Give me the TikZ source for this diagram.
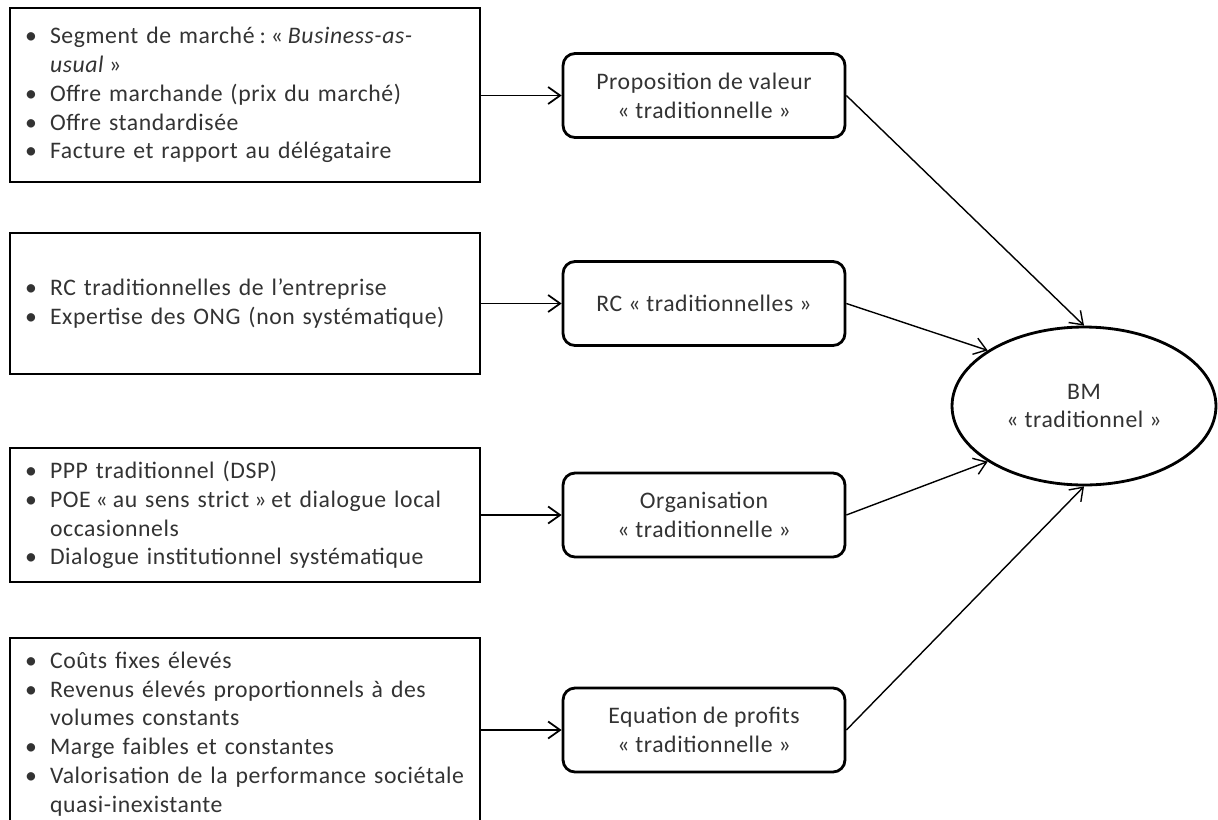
\documentclass[tikz,border=0pt]{standalone}
\usepackage{fontspec}
\setmainfont{Carlito}[LetterSpace=2.5]
\usetikzlibrary{arrows.meta,shapes.geometric}
\newcommand{\bi}[1]{\mbox{\makebox[0.5cm][l]{\textbullet}#1}}
\newcommand{\ci}[1]{\mbox{\hspace*{0.5cm}#1}}
\newcommand{\tsp}{\kern0.21em}
\tikzset{
  txt/.style={text=black!80, font=\fontsize{13.5}{16.4}\selectfont},
  lbox/.style={draw=black, line width=1.6pt, fill=white, txt, text width=8.8cm, inner xsep=0.3cm, inner ysep=0pt, align=left, minimum width=9.4cm},
  mbox/.style={draw=black, line width=1.6pt, rounded corners=0.24cm, txt, align=center, minimum width=5.64cm, minimum height=1.68cm, inner sep=0pt},
  bmell/.style={draw=black, ellipse, line width=1.6pt, txt, align=center, minimum width=5.28cm, minimum height=3.16cm, inner sep=0pt},
  harr/.style={-{Straight Barb[length=0.24cm,width=0.34cm]}, line width=1pt, black},
  darr/.style={-{Straight Barb[length=0.24cm,width=0.34cm]}, line width=0.8pt, black}
}
\begin{document}
\begin{tikzpicture}[x=0.02cm,y=-0.02cm]
\useasboundingbox (0,0) rectangle (1218,819);
\clip (0,0) rectangle (1218,819);
\fill[white] (0,0) rectangle (1218,819);

\node[lbox, minimum height=3.48cm] (l1) at (245,95) {\bi{Segment de marché\tsp:\tsp«\tsp\emph{Business-as-}}\\\ci{\emph{usual}\tsp»}\\\bi{Offre marchande (prix du marché)}\\\bi{Offre standardisée}\\\bi{Facture et rapport au délégataire}};
\node[lbox, minimum height=2.82cm] (l2) at (245,303.5) {\bi{RC traditionnelles de l’entreprise}\\\bi{Expertise des ONG (non systématique)}};
\node[lbox, minimum height=2.68cm] (l3) at (245,515) {\bi{PPP traditionnel (DSP)}\\\bi{POE\tsp«\tsp au sens strict\tsp»\tsp et dialogue local}\\\ci{occasionnels}\\\bi{Dialogue institutionnel systématique}};
\node[lbox, minimum height=3.84cm] (l4) at (245,734) {\bi{Coûts fixes élevés}\\\bi{Revenus élevés proportionnels à des}\\\ci{volumes constants}\\\bi{Marge faibles et constantes}\\\bi{Valorisation de la performance sociétale}\\\ci{quasi-inexistante}};

\node[mbox] (m1) at (704,95.5) {Proposition de valeur\\« traditionnelle »};
\node[mbox] (m2) at (704,303.5) {RC « traditionnelles »};
\node[mbox] (m3) at (704,515) {Organisation\\« traditionnelle »};
\node[mbox] (m4) at (704,730) {Equation de profits\\« traditionnelle »};

\node[bmell] (bm) at (1084,406) {BM\\« traditionnel »};

\draw[harr] (l1.east |- m1.west) -- (m1.west);
\draw[harr] (l2.east |- m2.west) -- (m2.west);
\draw[harr] (l3.east |- m3.west) -- (m3.west);
\draw[harr] (l4.east |- m4.west) -- (m4.west);

\draw[darr] (m1.east) -- (bm.north);
\draw[darr] (m2.east) -- (bm.150);
\draw[darr] (m3.east) -- (bm.210);
\draw[darr] (m4.east) -- (bm.south);
\end{tikzpicture}
\end{document}
